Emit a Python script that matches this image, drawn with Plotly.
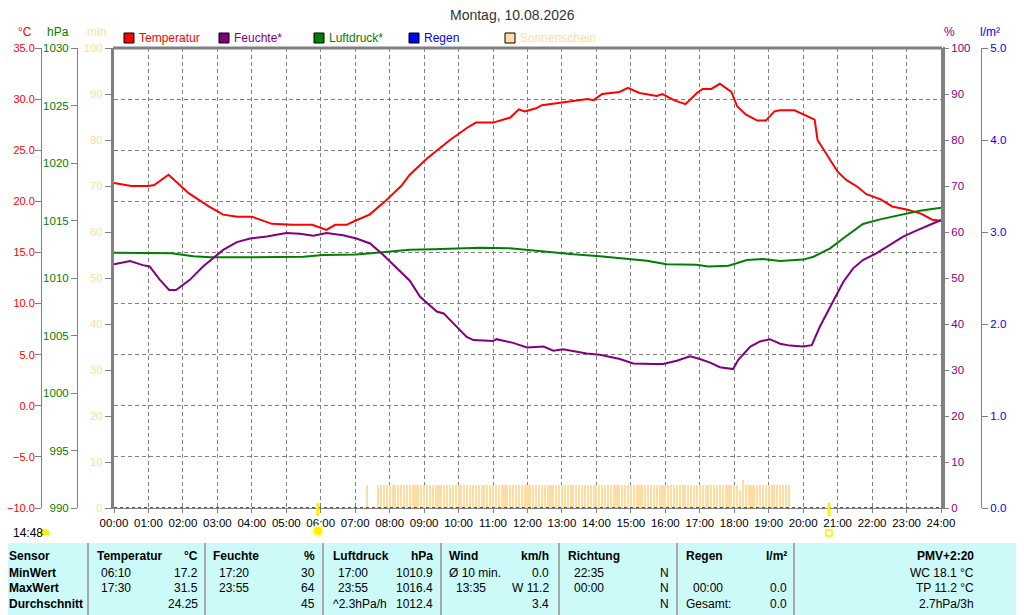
import plotly.graph_objects as go

W, H = 1024, 615
OFF = 8  # page body margin

RED = "#FF0000"
PURPLE = "#800080"
GREEN = "#008000"
BLUE = "#0000FF"
SUN = "#FFDDA0"
GREY = "#808080"

hour_labels = ["%02d:00" % h for h in range(25)]

temp_times = ["00:00", "00:30", "01:00", "01:10", "01:35", "02:10", "02:45", "03:10", "03:35", "04:00",
              "04:35", "05:10", "05:45", "06:10", "06:25", "06:45", "07:00", "07:25", "07:50", "08:10",
              "08:20", "08:35", "09:05", "09:45", "10:15", "10:30", "11:00", "11:30", "11:45", "11:55",
              "12:15", "12:25", "12:50", "13:20", "13:45", "13:55", "14:10", "14:40", "14:55", "15:15",
              "15:45", "15:55", "16:15", "16:35", "16:55", "17:05", "17:20", "17:35", "17:55", "18:05",
              "18:20", "18:40", "18:55", "19:10", "19:20", "19:45", "20:05", "20:20", "20:25", "20:40",
              "21:00", "21:15", "21:35", "21:50", "22:15", "22:35", "23:00", "23:25", "23:45", "24:00"]
temp = [21.8, 21.5, 21.5, 21.6, 22.6, 20.8, 19.5, 18.7, 18.5, 18.5,
        17.8, 17.7, 17.7, 17.2, 17.7, 17.7, 18.1, 18.7, 19.9, 21.0,
        21.5, 22.6, 24.2, 26.0, 27.2, 27.7, 27.7, 28.2, 29.0, 28.8,
        29.1, 29.4, 29.6, 29.8, 30.0, 29.9, 30.5, 30.7, 31.1, 30.6,
        30.3, 30.5, 29.9, 29.5, 30.6, 31.0, 31.0, 31.5, 30.7, 29.3,
        28.5, 27.9, 27.9, 28.8, 28.9, 28.9, 28.4, 28.0, 26.0, 24.7,
        22.9, 22.1, 21.4, 20.7, 20.2, 19.5, 19.2, 18.8, 18.2, 18.1]

hum_times = ["00:00", "00:28", "00:50", "01:02", "01:20", "01:36", "01:48", "02:12", "02:35", "02:53",
             "03:10", "03:34", "03:57", "04:26", "05:00", "05:24", "05:47", "06:10", "06:39", "07:02",
             "07:26", "07:49", "08:12", "08:35", "08:53", "09:22", "09:34", "10:14", "10:26", "11:00",
             "11:06", "11:35", "11:59", "12:28", "12:45", "13:02", "13:43", "14:06", "14:41", "15:04",
             "15:39", "15:56", "16:20", "16:43", "17:00", "17:18", "17:35", "17:58", "18:07", "18:28",
             "18:45", "19:02", "19:20", "19:37", "20:00", "20:15", "20:29", "20:53", "21:10", "21:27",
             "21:44", "22:08", "22:31", "22:54", "23:17", "23:41", "24:00"]
hum = [53.0, 53.7, 52.8, 52.5, 49.6, 47.4, 47.4, 49.6, 52.5, 54.3,
       56.1, 57.8, 58.6, 59.0, 59.8, 59.6, 59.2, 59.8, 59.3, 58.6,
       57.5, 55.0, 52.1, 49.4, 45.9, 42.7, 42.3, 37.2, 36.5, 36.3,
       36.7, 35.9, 34.9, 35.1, 34.2, 34.5, 33.6, 33.3, 32.4, 31.4,
       31.3, 31.3, 32.0, 33.0, 32.4, 31.6, 30.6, 30.2, 32.2, 35.1,
       36.2, 36.7, 35.7, 35.3, 35.1, 35.4, 39.4, 45.2, 49.2, 52.1,
       53.9, 55.4, 57.2, 59.0, 60.3, 61.5, 62.6]

press_times = ["00:00", "00:40", "01:00", "01:40", "02:18", "02:48", "03:42", "04:12", "05:00", "05:30",
               "06:04", "07:02", "07:37", "08:06", "08:35", "09:16", "10:37", "11:29", "12:10", "12:39",
               "13:20", "14:06", "14:53", "15:28", "16:02", "16:54", "17:15", "17:50", "18:22", "18:50",
               "19:20", "20:00", "20:18", "20:47", "21:10", "21:44", "22:14", "22:49", "23:23", "24:00"]
press = [1012.2, 1012.2, 1012.15, 1012.15, 1011.9, 1011.8, 1011.8, 1011.8, 1011.85, 1011.85,
         1012.0, 1012.05, 1012.2, 1012.35, 1012.45, 1012.5, 1012.63, 1012.58, 1012.37, 1012.26,
         1012.06, 1011.9, 1011.65, 1011.5, 1011.2, 1011.15, 1011.0, 1011.07, 1011.57, 1011.65,
         1011.48, 1011.6, 1011.85, 1012.58, 1013.45, 1014.7, 1015.1, 1015.48, 1015.85, 1016.1]

rain_times = ["00:00", "24:00"]
rain = [0.0, 0.0]

# sunshine minutes per 5 min slot, first slot at 07:20
sun_start = "07:20"
sun_minutes = [5, 0, 0, 0, 5, 5, 5, 5,                # 07:20 - 07:55
               5, 5, 5, 5, 5, 5, 5, 5, 5, 5, 5, 5,    # 08
               5, 5, 5, 5, 5, 5, 5, 5, 5, 5, 5, 5,    # 09
               5, 5, 5, 5, 5, 5, 5, 5, 5, 5, 5, 5,    # 10
               5, 5, 5, 5, 5, 5, 5, 5, 5, 5, 5, 5,    # 11
               5, 5, 5, 5, 5, 5, 5, 5, 5, 5, 5, 5,    # 12
               5, 5, 5, 5, 5, 5, 5, 5, 5, 5, 5, 5,    # 13
               5, 5, 5, 5, 5, 5, 5, 5, 5, 5, 5, 5,    # 14
               5, 5, 5, 5, 5, 5, 5, 5, 5, 5, 5, 5,    # 15
               5, 5, 5, 5, 5, 5, 5, 5, 5, 5, 5, 5,    # 16
               5, 5, 5, 5, 5, 5, 5, 5, 5, 5, 5, 5,    # 17
               5, 5, 4, 6, 5, 5, 5, 5, 5, 5, 5, 5,    # 18
               5, 5, 5, 5, 5, 5, 5, 5]                # 19:00 - 19:35

sunrise, sunset = "05:55", "20:45"


def hrs(t):
    h, m = t.split(":")
    return int(h) + int(m) / 60


# screen pixel -> paper fraction (figure sits OFF px into the page)
def px(x):
    return (x - OFF) / W


def py(y):
    return 1 - (y - OFF) / H


fig = go.Figure()

t0 = hrs(sun_start)
sun_x = [t0 + i * 5 / 60 for i in range(len(sun_minutes))]
fig.add_trace(go.Bar(x=sun_x, y=sun_minutes, width=3.6 / 60, marker=dict(color=SUN, line=dict(width=0)),
                     yaxis="y", hoverinfo="skip"))
fig.add_trace(go.Scatter(x=[hrs(t) for t in rain_times], y=rain, mode="lines", yaxis="y5",
                         line=dict(color=BLUE, width=1.5, dash="dot")))
fig.add_trace(go.Scatter(x=[hrs(t) for t in press_times], y=press, mode="lines", yaxis="y3",
                         line=dict(color=GREEN, width=2)))
fig.add_trace(go.Scatter(x=[hrs(t) for t in hum_times], y=hum, mode="lines", yaxis="y4",
                         line=dict(color=PURPLE, width=2)))
fig.add_trace(go.Scatter(x=[hrs(t) for t in temp_times], y=temp, mode="lines", yaxis="y2",
                         line=dict(color=RED, width=2)))

dom_y = [py(508), py(48)]
common = dict(ticks="outside", tickcolor=GREY, showline=True, linecolor=GREY,
              zeroline=False, fixedrange=True, automargin=False)

fig.update_layout(
    width=W, height=H, margin=dict(l=0, r=0, t=0, b=0, autoexpand=False),
    paper_bgcolor="white", plot_bgcolor="white", showlegend=False, bargap=0,
    font=dict(family="Liberation Sans, DejaVu Sans", size=12, color="black"),
    xaxis=dict(domain=[px(114), px(941)], range=[0, 24], tickvals=list(range(25)), ticktext=hour_labels,
               ticks="outside", ticklen=4, tickcolor=GREY, showline=True, linecolor=GREY, zeroline=False,
               showgrid=True, gridcolor=GREY, griddash="4px,3px", gridwidth=1, fixedrange=True,
               automargin=False, tickfont=dict(size=11.5)),
    yaxis=dict(domain=dom_y, range=[0, 100], dtick=10, side="left", tickfont=dict(color=SUN, size=11.5),
               showgrid=False, linewidth=3, ticklen=6, **common),
    yaxis2=dict(overlaying="y", anchor="free", position=px(41), side="left", range=[-10, 35], dtick=5,
                tickformat=".1f", tickfont=dict(color=RED, size=11), showgrid=True, gridcolor=GREY,
                griddash="4px,3px", gridwidth=1, ticklen=6, ticklabelstandoff=-2, **common),
    yaxis3=dict(overlaying="y", anchor="free", position=px(77), side="left", range=[990, 1030], dtick=5,
                tickfont=dict(color=GREEN, size=11.5), showgrid=False, ticklen=6, **common),
    yaxis4=dict(overlaying="y", anchor="x", side="right", range=[0, 100], dtick=10,
                tickfont=dict(color=PURPLE, size=11.5), showgrid=False, linewidth=2, ticklen=6, **common),
    yaxis5=dict(overlaying="y", anchor="free", position=px(981), side="right", range=[0, 5], dtick=1,
                tickformat=".1f", tickfont=dict(color=BLUE, size=11.5), showgrid=False, ticklen=6, **common),
)

shapes = []
# frame: thick top, double right
shapes.append(dict(type="line", xref="paper", yref="paper", x0=px(113), x1=px(942), y0=py(48), y1=py(48),
                   line=dict(color=GREY, width=3)))
shapes.append(dict(type="line", xref="paper", yref="paper", x0=px(944), x1=px(944), y0=py(47), y1=py(508),
                   line=dict(color=GREY, width=2)))
# sunrise / sunset ticks and icons
for t in (sunrise, sunset):
    shapes.append(dict(type="line", xref="x", yref="paper", x0=hrs(t), x1=hrs(t), y0=py(503), y1=py(516),
                       line=dict(color="#FFF000", width=3)))
x_rise = px(114) + hrs(sunrise) / 24 * (px(941) - px(114))
x_set = px(114) + hrs(sunset) / 24 * (px(941) - px(114))
shapes.append(dict(type="circle", xref="paper", yref="paper", x0=x_rise - 5 / W, x1=x_rise + 5 / W,
                   y0=py(536), y1=py(526), fillcolor="#FFF000", line=dict(color="#FFFF90", width=2)))
shapes.append(dict(type="rect", xref="paper", yref="paper", x0=x_set - 3 / W, x1=x_set + 3 / W,
                   y0=py(536), y1=py(530), line=dict(color="#FFF000", width=1.5)))
shapes.append(dict(type="circle", xref="paper", yref="paper", x0=px(40), x1=px(50), y0=py(539), y1=py(529),
                   fillcolor="#FFF000", line=dict(width=0)))
shapes.append(dict(type="rect", xref="paper", yref="paper", x0=px(38), x1=px(52), y0=py(541), y1=py(535),
                   fillcolor="white", line=dict(width=0)))

# legend squares
legend = [(124, RED, "Temperatur"), (219, PURPLE, "Feuchte*"), (314, GREEN, "Luftdruck*"),
          (409, BLUE, "Regen"), (505, SUN, "Sonnenschein")]
for x, c, name in legend:
    shapes.append(dict(type="rect", xref="paper", yref="paper", x0=px(x), x1=px(x + 10), y0=py(43), y1=py(33),
                       fillcolor=c, line=dict(color="black", width=1)))

# table
shapes.append(dict(type="rect", xref="paper", yref="paper", x0=0, x1=1, y0=0, y1=py(543),
                   fillcolor="#CCFAF8", line=dict(width=0), layer="below"))
for x in (88, 205, 323, 441, 559, 677, 794):
    shapes.append(dict(type="line", xref="paper", yref="paper", x0=px(x), x1=px(x), y0=0, y1=py(543),
                       line=dict(color="#A8A8A8", width=2)))
fig.update_layout(shapes=shapes)


def txt(x, y, s, anchor="left", color="black", size=12, bold=False):
    fig.add_annotation(x=px(x), y=py(y), xref="paper", yref="paper", text="<b>%s</b>" % s if bold else s,
                       showarrow=False, xanchor=anchor, yanchor="middle", font=dict(color=color, size=size),
                       borderpad=0)


txt(512, 15, "Montag, 10.08.2026", anchor="center", color="#333333", size=14)
txt(25, 32, "°C", "center", RED)
txt(58, 32, "hPa", "center", GREEN)
txt(96, 32, "min", "center", SUN)
txt(949, 32, "%", "center", PURPLE)
txt(990, 32, "l/m²", "center", BLUE)
for x, c, name in legend:
    txt(x + 14, 38, name, color=c)

txt(12, 533, "14:48")

rows = [556, 573, 588, 604]
txt(8, rows[0], "Sensor", bold=True)
txt(96, rows[0], "Temperatur", bold=True)
txt(199, rows[0], "°C", "right", bold=True)
txt(212, rows[0], "Feuchte", bold=True)
txt(316, rows[0], "%", "right", bold=True)
txt(332, rows[0], "Luftdruck", bold=True)
txt(434, rows[0], "hPa", "right", bold=True)
txt(448, rows[0], "Wind", bold=True)
txt(550, rows[0], "km/h", "right", bold=True)
txt(567, rows[0], "Richtung", bold=True)
txt(685, rows[0], "Regen", bold=True)
txt(788, rows[0], "l/m²", "right", bold=True)
txt(975, rows[0], "PMV+2:20", "right", bold=True)

txt(8, rows[1], "MinWert", bold=True)
txt(100, rows[1], "06:10")
txt(199, rows[1], "17.2", "right")
txt(218, rows[1], "17:20")
txt(316, rows[1], "30", "right")
txt(337, rows[1], "17:00")
txt(434, rows[1], "1010.9", "right")
txt(448, rows[1], "Ø 10 min.")
txt(550, rows[1], "0.0", "right")
txt(573, rows[1], "22:35")
txt(670, rows[1], "N", "right")
txt(975, rows[1], "WC 18.1 °C", "right")

txt(8, rows[2], "MaxWert", bold=True)
txt(100, rows[2], "17:30")
txt(199, rows[2], "31.5", "right")
txt(218, rows[2], "23:55")
txt(316, rows[2], "64", "right")
txt(337, rows[2], "23:55")
txt(434, rows[2], "1016.4", "right")
txt(455, rows[2], "13:35")
txt(550, rows[2], "W 11.2", "right")
txt(573, rows[2], "00:00")
txt(670, rows[2], "N", "right")
txt(692, rows[2], "00:00")
txt(788, rows[2], "0.0", "right")
txt(975, rows[2], "TP 11.2 °C", "right")

txt(8, rows[3], "Durchschnitt", bold=True)
txt(199, rows[3], "24.25", "right")
txt(316, rows[3], "45", "right")
txt(332, rows[3], "^2.3hPa/h")
txt(434, rows[3], "1012.4", "right")
txt(550, rows[3], "3.4", "right")
txt(670, rows[3], "N", "right")
txt(685, rows[3], "Gesamt:")
txt(788, rows[3], "0.0", "right")
txt(975, rows[3], "2.7hPa/3h", "right")

fig.write_html("out.html")
